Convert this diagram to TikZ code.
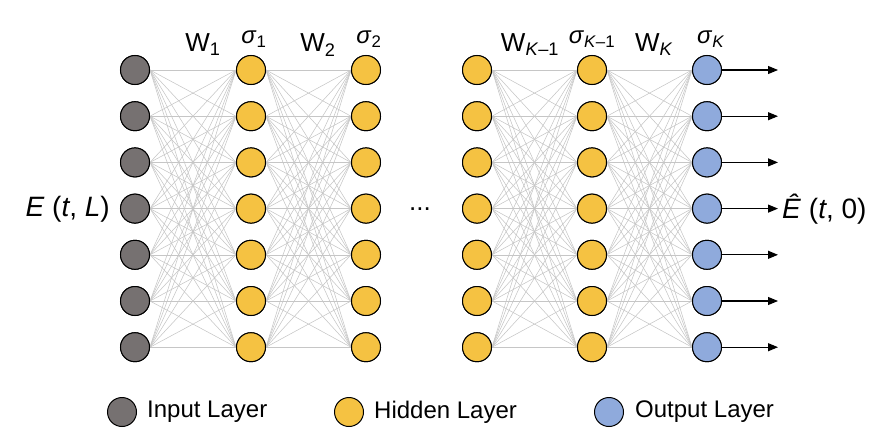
\documentclass[tikz,border=0pt]{standalone}
\usepackage{fontspec}
\setmainfont{Liberation Sans}
\usetikzlibrary{arrows.meta}
\definecolor{ingray}{HTML}{767171}
\definecolor{hidyellow}{HTML}{F5C242}
\definecolor{outblue}{HTML}{8FAADC}
\definecolor{wire}{HTML}{C6C6C6}
\tikzset{
  neuron/.style={circle, draw=black, line width=1pt, minimum size=29pt, inner sep=0pt},
  inneuron/.style={neuron, fill=ingray},
  hidneuron/.style={neuron, fill=hidyellow},
  outneuron/.style={neuron, fill=outblue},
  link/.style={draw=wire, line width=0.55pt},
  outarrow/.style={draw=black, line width=1.1pt, -{Triangle[length=10pt,width=8pt]}},
  lbl/.style={font=\fontsize{26}{28}\selectfont, inner sep=0pt},
  iolbl/.style={font=\fontsize{28}{30}\selectfont, inner sep=0pt},
  siglbl/.style={font=\fontsize{24}{26}\selectfont, inner sep=0pt},
  legtxt/.style={font=\fontsize{24}{26}\selectfont, anchor=west, inner sep=0pt}
}
\begin{document}
\begin{tikzpicture}[x=1pt,y=-1pt]
\useasboundingbox (0,0) rectangle (882,444);
% neurons, column by column
\foreach \c/\x/\st in {1/135/inneuron,2/251/hidneuron,3/366/hidneuron,4/477/hidneuron,5/592/hidneuron,6/707/outneuron}{
  \foreach \r in {1,...,7}{
    \node[\st] (n-\c-\r) at (\x,{70+46.2*(\r-1)}) {};
  }
}
% fully connected weights between neighbouring layers
\foreach \a/\b in {1/2,2/3,4/5,5/6}{
  \foreach \i in {1,...,7}{
    \foreach \j in {1,...,7}{
      \draw[link] (n-\a-\i.east) -- (n-\b-\j.west);
    }
  }
}
% redraw the neurons on top of the wires
\foreach \c/\x/\st in {1/135/inneuron,2/251/hidneuron,3/366/hidneuron,4/477/hidneuron,5/592/hidneuron,6/707/outneuron}{
  \foreach \r in {1,...,7}{
    \node[\st] at (\x,{70+46.2*(\r-1)}) {};
  }
}
% output arrows
\foreach \r in {1,...,7}{
  \coordinate (o-\r) at (778,{70+46.2*(\r-1)});
  \draw[outarrow] (n-6-\r.east) -- (o-\r);
}
% weight and activation labels
\node[lbl] (w1) at (203,45) {W\textsubscript{1}};
\node[siglbl] (s1) at (254,39) {\textit{σ}\textsubscript{1}};
\node[lbl] (w2) at (318,45) {W\textsubscript{2}};
\node[siglbl] (s2) at (369,39) {\textit{σ}\textsubscript{2}};
\node[lbl] (wk1) at (530,45) {W\textsubscript{\textit{K}–1}};
\node[siglbl] (sk1) at (592,39) {\textit{σ}\textsubscript{\textit{K}–1}};
\node[lbl] (wk) at (654,45) {W\textsubscript{\textit{K}}};
\node[siglbl] (sk) at (711,39) {\textit{σ}\textsubscript{\textit{K}}};
% input / output labels
\node[iolbl, anchor=east] (inlbl) at (110,209) {\textit{E} (\textit{t}, \textit{L})};
\node[iolbl, anchor=west] (outlbl) at (782,209) {\textit{Ê} (\textit{t}, 0)};
\node[lbl] (dots) at (420,209) {...};
% legend
\node[inneuron] (lg1) at (122,412) {};
\node[legtxt] (lt1) at (147,412) {Input Layer};
\node[hidneuron] (lg2) at (349,412) {};
\node[legtxt] (lt2) at (374,412) {Hidden Layer};
\node[outneuron] (lg3) at (609,412) {};
\node[legtxt] (lt3) at (635,412) {Output Layer};
\end{tikzpicture}
\end{document}
